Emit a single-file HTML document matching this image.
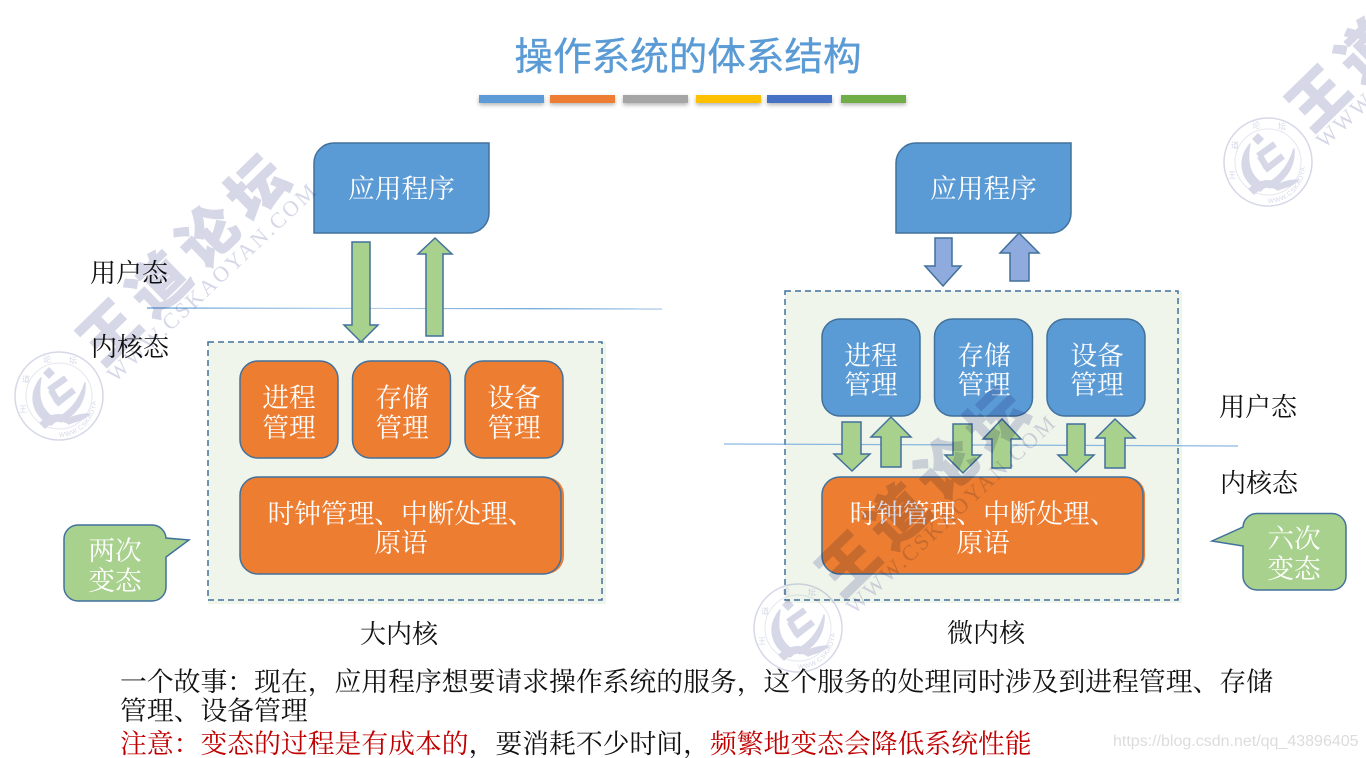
<!DOCTYPE html>
<html lang="zh"><head><meta charset="utf-8"><style>
html,body{margin:0;padding:0;background:#fff;width:1366px;height:758px;overflow:hidden}
svg{display:block}
text{font-family:"Liberation Serif","Noto Serif CJK SC",serif;font-size:26.7px}
.w{fill:#fff;text-anchor:middle}
.k{fill:#111}
.lb{font-size:26px}
.ln{font-size:26.82px}
.mid{text-anchor:middle}
.wm{mix-blend-mode:multiply}
.wm text{fill:#d6d8e8}
.big{font-family:"Liberation Sans","Noto Sans CJK SC",sans-serif;font-size:58px;font-weight:900;letter-spacing:11px;stroke:#d6d8e8;stroke-width:1.2px}
.url{font-size:22px}
.sm{font-size:8px;font-family:"Liberation Sans","Noto Sans CJK SC",sans-serif;text-anchor:middle}
.arc{font-size:6.5px;font-family:"Liberation Sans",sans-serif;letter-spacing:.6px}
.b{stroke:#41719c;stroke-width:1.5}
.g{fill:#a9d18e;stroke:#41719c;stroke-width:1.5}
.p{fill:#8faadc;stroke:#41719c;stroke-width:1.5}
.lf{fill:#d6d8e8;stroke:#d6d8e8;stroke-width:1.5;stroke-linejoin:round}
.ls{fill:none;stroke:#d6d8e8;stroke-width:6.5}
</style></head><body>
<svg width="1366" height="758" viewBox="0 0 1366 758" xmlns="http://www.w3.org/2000/svg">
<defs>
<filter id="sh" x="-20%" y="-100%" width="140%" height="350%"><feDropShadow dx="0" dy="2" stdDeviation="2" flood-color="#000" flood-opacity=".3"/></filter>
<linearGradient id="l1" x1="0" x2="1" y1="0" y2="0"><stop offset="0" stop-color="#5b9bd5"/><stop offset=".45" stop-color="#b4d0ea"/><stop offset=".75" stop-color="#5b9bd5"/><stop offset="1" stop-color="#9fc3e5"/></linearGradient>
<path id="a1" d="M59 437A37 37 0 0 0 96 400"/>
<path id="a2" d="M798 669A37 37 0 0 0 835 632"/>
<path id="a3" d="M1268 203A37 37 0 0 0 1305 166"/>
</defs>

<text x="688" y="70" text-anchor="middle" style="font-family:'Liberation Sans','Noto Sans CJK SC',sans-serif;font-size:38.6px;fill:#5b9bd5;stroke:#5b9bd5;stroke-width:.35px">操作系统的体系结构</text>
<g filter="url(#sh)">
<rect x="479" y="95" width="65" height="8" fill="#5b9bd5"/>
<rect x="550" y="95" width="65" height="8" fill="#ed7d31"/>
<rect x="623" y="95" width="65" height="8" fill="#a5a5a5"/>
<rect x="696" y="95" width="65" height="8" fill="#ffc000"/>
<rect x="767" y="95" width="65" height="8" fill="#4472c4"/>
<rect x="841" y="95" width="65" height="8" fill="#70ad47"/>
</g>

<!-- Left diagram -->
<rect x="208" y="342" width="398" height="262" fill="#f0f5ec"/>
<rect x="208" y="342" width="394" height="258" fill="none" stroke="#41719c" stroke-width="1.5" stroke-dasharray="6 4"/>
<line x1="147" y1="308" x2="662" y2="309" stroke="url(#l1)" stroke-width="1.2"/>
<path class="b" fill="#5b9bd5" d="M334 143H489V213A20 20 0 0 1 469 233H314V163A20 20 0 0 1 334 143Z"/>
<text class="w" x="401.5" y="198">应用程序</text>
<path class="g" d="M352 242H370V325H378L361 342L344 325H352Z"/>
<path class="g" d="M426 336V254H418L435 238L452 254H443V336Z"/>
<rect class="b" x="240" y="361" width="98" height="97" rx="18" fill="#ed7d31"/>
<rect class="b" x="352.500" y="361" width="98" height="97" rx="18" fill="#ed7d31"/>
<rect class="b" x="465" y="361" width="98" height="97" rx="18" fill="#ed7d31"/>
<rect x="242" y="477" width="322" height="97" rx="18" fill="#ed7d31"/>
<rect class="b" x="240" y="477" width="321" height="97" rx="18" fill="#ed7d31"/>
<text class="w" x="289" y="407">进程</text><text class="w" x="289" y="437">管理</text>
<text class="w" x="402" y="407">存储</text><text class="w" x="402" y="437">管理</text>
<text class="w" x="514" y="407">设备</text><text class="w" x="514" y="437">管理</text>
<text class="w" x="401" y="523">时钟管理、中断处理、</text><text class="w" x="401" y="552">原语</text>
<path class="g" d="M78 525H152A14 14 0 0 1 166 538L189 540L166 557V587A14 14 0 0 1 152 601H78A14 14 0 0 1 64 587V539A14 14 0 0 1 78 525Z"/>
<text class="w" x="115" y="560">两次</text><text class="w" x="115" y="590">变态</text>
<text class="k lb" x="90" y="282">用户态</text>
<text class="k lb" x="91" y="356">内核态</text>
<text class="k mid lb" x="399" y="643">大内核</text>

<!-- Right diagram -->
<rect x="785" y="291" width="397" height="312" fill="#f0f5ec"/>
<rect x="785" y="291" width="393" height="309" fill="none" stroke="#41719c" stroke-width="1.5" stroke-dasharray="6 4"/>
<line x1="724" y1="444" x2="1238" y2="446" stroke="#5b9bd5" stroke-opacity=".7" stroke-width="1.2"/>
<path class="b" fill="#5b9bd5" d="M916 143H1071V213A20 20 0 0 1 1051 233H896V163A20 20 0 0 1 916 143Z"/>
<text class="w" x="983.500" y="198">应用程序</text>
<path class="p" d="M935 238H952V266H961L943 286L925 266H935Z"/>
<path class="p" d="M1010 281V253H1000L1019 233L1039 253H1029V281Z"/>
<rect class="b" x="822" y="319" width="98" height="97" rx="18" fill="#5b9bd5"/>
<rect class="b" x="934.500" y="319" width="98" height="97" rx="18" fill="#5b9bd5"/>
<rect class="b" x="1047" y="319" width="98" height="97" rx="18" fill="#5b9bd5"/>
<text class="w" x="871" y="365">进程</text><text class="w" x="871" y="394">管理</text>
<text class="w" x="984" y="365">存储</text><text class="w" x="984" y="394">管理</text>
<text class="w" x="1097" y="365">设备</text><text class="w" x="1097" y="394">管理</text>
<path class="g" d="M842 422H861V454H870L852 471L834 454H842Z"/>
<path class="g" d="M881 467V437H871L891 417L911 437H901V467Z"/>
<path class="g" d="M953 424H972V455H981L963 473L945 455H953Z"/>
<path class="g" d="M992 468V439H983L1002 419L1021 439H1011V468Z"/>
<path class="g" d="M1067 424H1085V455H1094L1076 472L1058 455H1067Z"/>
<path class="g" d="M1105 468V438H1096L1115 419L1135 438H1125V468Z"/>
<rect x="824" y="477" width="321" height="97" rx="18" fill="#ed7d31"/>
<rect class="b" x="822" y="477" width="321" height="97" rx="18" fill="#ed7d31"/>
<text class="w" x="983" y="523">时钟管理、中断处理、</text><text class="w" x="983" y="552">原语</text>
<path class="g" d="M1257 513.500H1332A14 14 0 0 1 1346 527.500V576A14 14 0 0 1 1332 590H1257A14 14 0 0 1 1243 576V546L1212 541L1243 527A14 14 0 0 1 1257 513.500Z"/>
<text class="w" x="1294" y="548">六次</text><text class="w" x="1294" y="578">变态</text>
<text class="k lb" x="1219" y="416">用户态</text>
<text class="k lb" x="1220" y="492">内核态</text>
<text class="k mid lb" x="986" y="642">微内核</text>

<!-- Bottom text -->
<text class="k ln" x="120" y="691">一个故事：现在，应用程序想要请求操作系统的服务，这个服务的处理同时涉及到进程管理、存储</text>
<text class="k ln" x="120" y="720">管理、设备管理</text>
<text class="ln" x="120" y="753" fill="#c00000">注意：变态的过程是有成本的<tspan fill="#111">，要消耗不少时间，</tspan>频繁地变态会降低系统性能</text>
<text x="1113" y="746" style="font-family:'Liberation Sans',sans-serif;font-size:16px;fill:#dcdcdc">https://blog.csdn.net/qq_43896405</text>

<!-- Watermarks -->
<g class="wm">
<circle cx="59" cy="396" r="44" fill="none" stroke="#d6d8e8" stroke-width="1.5"/><circle cx="59" cy="396" r="33" fill="none" stroke="#e6e7f0" stroke-width="1"/>
<g transform="translate(59,396)">
<path class="lf" d="M-10 -28L-5 -23L-10 -18L-15 -23Z"/>
<path class="ls" d="M-10 -6L7 -18M-8 -6L-1 6M-3 8L15 -6"/>
<path class="lf" d="M-18 -18C-31 -2 -28 18 -8 29L-2 24C-18 15 -22 2 -18 -18Z"/>
<path class="lf" d="M26 -13C27 8 14 20 2 26L-3 23C10 16 20 6 26 -13Z"/>
<path class="lf" d="M-19 27C-8 17 3 17 11 22C18 19 24 18 30 18C24 25 16 25 10 28C3 23 -6 24 -14 32Z"/>
<text class="sm" x="-33" y="-14">道</text><text class="sm" x="-12" y="-34">论</text><text class="sm" x="14" y="-33">坛</text><text class="sm" x="-36" y="16">王</text>
<text class="big" transform="translate(44,-28.600) rotate(-44.3)">王道论坛</text>
<text class="url" transform="translate(56.500,-13) rotate(-43.2)" textLength="277">WWW.CSKAOYAN.COM</text>
</g>
<text class="arc"><textPath href="#a1">WWW.CSKAOYAN.COM</textPath></text>
</g>
<g class="wm">
<circle cx="798" cy="628" r="44" fill="none" stroke="#d6d8e8" stroke-width="1.5"/><circle cx="798" cy="628" r="33" fill="none" stroke="#e6e7f0" stroke-width="1"/>
<g transform="translate(798,628)">
<path class="lf" d="M-10 -28L-5 -23L-10 -18L-15 -23Z"/>
<path class="ls" d="M-10 -6L7 -18M-8 -6L-1 6M-3 8L15 -6"/>
<path class="lf" d="M-18 -18C-31 -2 -28 18 -8 29L-2 24C-18 15 -22 2 -18 -18Z"/>
<path class="lf" d="M26 -13C27 8 14 20 2 26L-3 23C10 16 20 6 26 -13Z"/>
<path class="lf" d="M-19 27C-8 17 3 17 11 22C18 19 24 18 30 18C24 25 16 25 10 28C3 23 -6 24 -14 32Z"/>
<text class="sm" x="-33" y="-14">道</text><text class="sm" x="-12" y="-34">论</text><text class="sm" x="14" y="-33">坛</text><text class="sm" x="-36" y="16">王</text>
<text class="big" transform="translate(44,-28.600) rotate(-44.3)">王道论坛</text>
<text class="url" transform="translate(56.500,-13) rotate(-43.2)" textLength="277">WWW.CSKAOYAN.COM</text>
</g>
<text class="arc"><textPath href="#a2">WWW.CSKAOYAN.COM</textPath></text>
</g>
<g class="wm">
<circle cx="1268" cy="162" r="44" fill="none" stroke="#d6d8e8" stroke-width="1.5"/><circle cx="1268" cy="162" r="33" fill="none" stroke="#e6e7f0" stroke-width="1"/>
<g transform="translate(1268,162)">
<path class="lf" d="M-10 -28L-5 -23L-10 -18L-15 -23Z"/>
<path class="ls" d="M-10 -6L7 -18M-8 -6L-1 6M-3 8L15 -6"/>
<path class="lf" d="M-18 -18C-31 -2 -28 18 -8 29L-2 24C-18 15 -22 2 -18 -18Z"/>
<path class="lf" d="M26 -13C27 8 14 20 2 26L-3 23C10 16 20 6 26 -13Z"/>
<path class="lf" d="M-19 27C-8 17 3 17 11 22C18 19 24 18 30 18C24 25 16 25 10 28C3 23 -6 24 -14 32Z"/>
<text class="sm" x="-33" y="-14">道</text><text class="sm" x="-12" y="-34">论</text><text class="sm" x="14" y="-33">坛</text><text class="sm" x="-36" y="16">王</text>
<text class="big" transform="translate(44,-28.600) rotate(-44.3)">王道论坛</text>
<text class="url" transform="translate(56.500,-13) rotate(-43.2)" textLength="277">WWW.CSKAOYAN.COM</text>
</g>
<text class="arc"><textPath href="#a3">WWW.CSKAOYAN.COM</textPath></text>
</g>
</svg>
</body></html>
